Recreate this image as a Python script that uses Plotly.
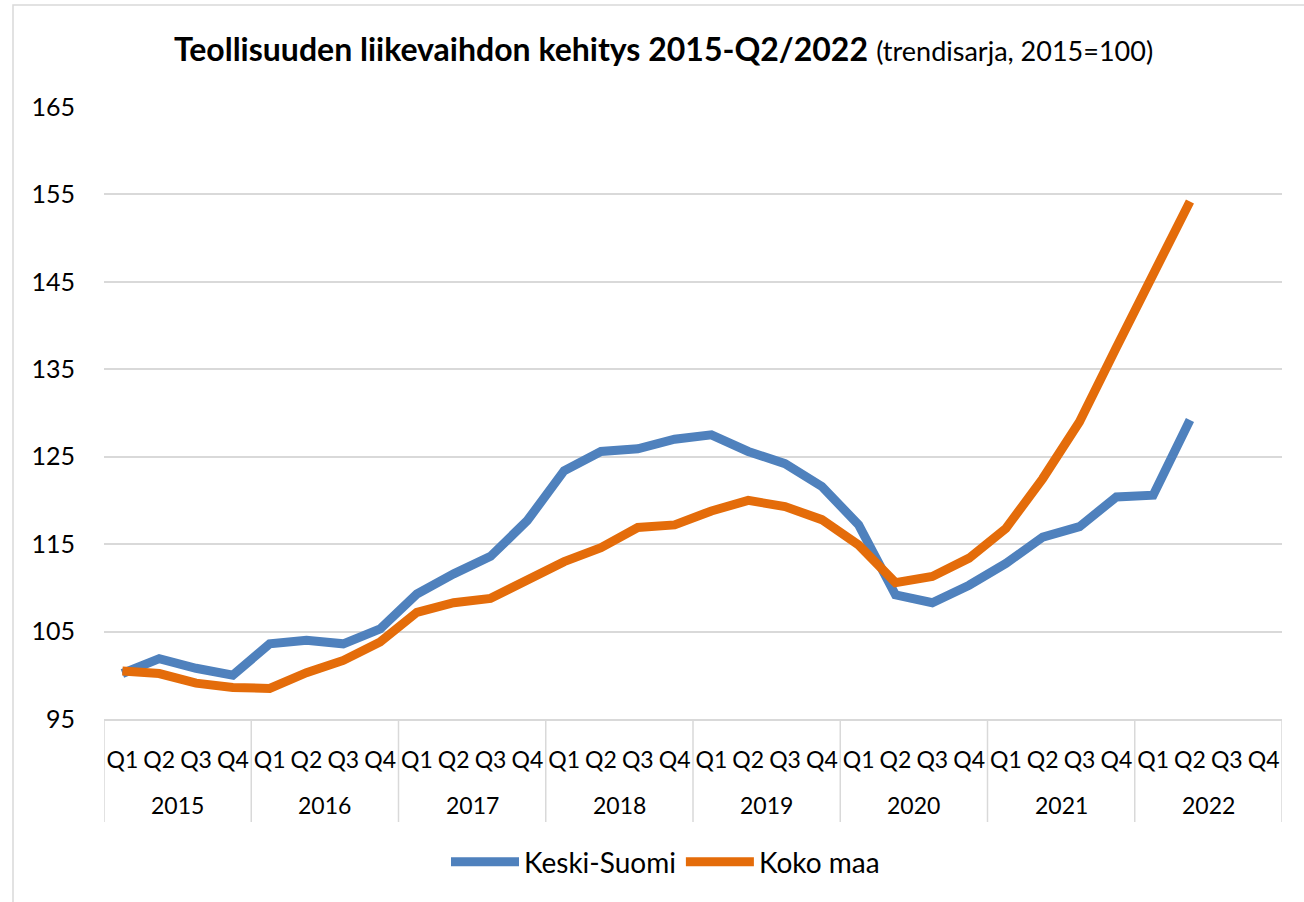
import plotly.graph_objects as go

year_labels = ["2015", "2016", "2017", "2018", "2019", "2020", "2021", "2022"]
quarter_labels = ["Q1", "Q2", "Q3", "Q4"]
categories = [f"{y} {q}" for y in year_labels for q in quarter_labels]
quarters = quarter_labels * len(year_labels)

keski_suomi = [100.2, 101.9, 100.8, 100.0, 103.6, 104.0, 103.6, 105.3,
               109.3, 111.6, 113.6, 117.7, 123.4, 125.6, 125.9, 127.0,
               127.5, 125.6, 124.2, 121.6, 117.2, 109.2, 108.3, 110.3,
               112.8, 115.8, 117.0, 120.4, 120.6, 129.2, None, None]
koko_maa = [100.5, 100.2, 99.1, 98.6, 98.5, 100.3, 101.7, 103.8,
            107.2, 108.3, 108.8, 110.9, 113.0, 114.6, 116.9, 117.2,
            118.8, 120.0, 119.3, 117.8, 114.9, 110.6, 111.3, 113.4,
            116.8, 122.5, 129.0, 137.5, 145.8, 154.2, None, None]

y_ticks = [95, 105, 115, 125, 135, 145, 155, 165]

FONT = "Lato, 'Noto Sans', sans-serif"
GRID = "#D9D9D9"

fig = go.Figure()
fig.add_trace(go.Scatter(x=categories, y=keski_suomi, name="Keski-Suomi",
                         mode="lines", line=dict(color="#4F81BD", width=9)))
fig.add_trace(go.Scatter(x=categories, y=koko_maa, name="Koko maa",
                         mode="lines", line=dict(color="#E46C0A", width=9)))

W, H = 1304, 902
L, R, T, B = 104, 22, 107, 183
pw = W - L - R
ph = H - T - B

def px_x(x):
    return (x - L) / pw

def px_y(y):
    return (H - B - y) / ph

nq = len(quarter_labels)
shapes = []
# year dividers below the axis
for k in range(len(year_labels) + 1):
    xv = -0.5 + nq * k
    shapes.append(dict(type="line", xref="x", yref="paper", x0=xv, x1=xv,
                       y0=0, y1=px_y(822), line=dict(color=GRID, width=1.5)))
# outer frame
shapes.append(dict(type="rect", xref="paper", yref="paper",
                   x0=px_x(13), x1=px_x(1320), y0=px_y(5), y1=px_y(920),
                   line=dict(color=GRID, width=1.5), fillcolor="rgba(0,0,0,0)",
                   layer="below"))

annotations = []
for k, yl in enumerate(year_labels):
    annotations.append(dict(text=yl, xref="x", yref="paper",
                            x=nq * k + (nq - 1) / 2, y=px_y(805),
                            xanchor="center", yanchor="middle", showarrow=False,
                            font=dict(family=FONT, size=23, color="black")))

fig.update_layout(
    width=W, height=H,
    margin=dict(l=L, r=R, t=T, b=B),
    paper_bgcolor="white", plot_bgcolor="white",
    font=dict(family=FONT, color="black", size=22),
    title=dict(
        text="<b>Teollisuuden liikevaihdon kehitys 2015-Q2/2022</b> <span style='font-size:27px'>(trendisarja, 2015=100)</span>",
        font=dict(family=FONT, size=32, color="black"),
        x=663.5 / W, xanchor="center", xref="container",
        y=1 - 50 / H, yanchor="middle", yref="container",
    ),
    showlegend=True,
    legend=dict(orientation="h", x=px_x(665.5), xanchor="center",
                y=px_y(862), yanchor="middle",
                font=dict(family=FONT, size=28), itemwidth=68,
                bgcolor="rgba(0,0,0,0)"),
    xaxis=dict(type="category", range=[-0.5, len(categories) - 0.5],
               tickvals=categories, ticktext=quarters, tickangle=0,
               showgrid=False, showline=True, linecolor=GRID, linewidth=1.5,
               ticks="", ticklabelstandoff=20,
               tickfont=dict(family=FONT, size=23)),
    yaxis=dict(range=[95, 165], tickvals=y_ticks, showgrid=True,
               gridcolor=GRID, gridwidth=1.5, zeroline=False, showline=False,
               ticks="", ticklabelstandoff=28,
               tickfont=dict(family=FONT, size=25)),
    shapes=shapes,
    annotations=annotations,
)

fig.write_html("out.html", config={"displayModeBar": False},
               post_script="document.body.style.margin='0px';")
